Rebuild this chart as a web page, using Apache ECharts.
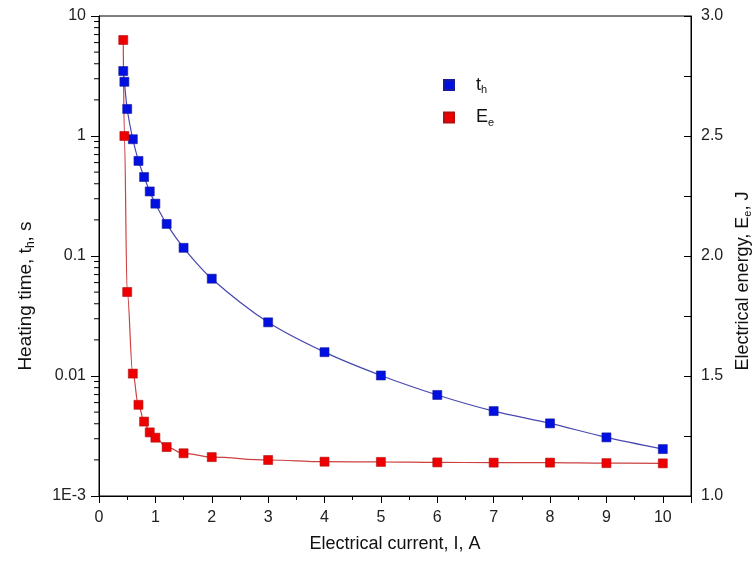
<!DOCTYPE html>
<html>
<head>
<meta charset="utf-8">
<script src="https://cdn.jsdelivr.net/npm/echarts@6/dist/echarts.min.js"></script>
<style>
  html, body { margin: 0; padding: 0; background: #fff; }
  #main { width: 755px; height: 575px; }
</style>
</head>
<body>
<div id="main"></div>
<script>
var chart = echarts.init(document.getElementById('main'));

// current, A
var current = [0.43, 0.45, 0.5, 0.6, 0.7, 0.8, 0.9, 1.0, 1.2, 1.5, 2, 3, 4, 5, 6, 7, 8, 9, 10];
// heating time t_h, s (left, log)
var heatTime = [3.48, 2.83, 1.68, 0.94, 0.62, 0.455, 0.345, 0.273, 0.185, 0.117, 0.0647, 0.028, 0.0158, 0.0101, 0.00695, 0.0051, 0.00403, 0.00308, 0.00246];
// electrical energy E_e, J (right)
var energy = [2.90, 2.50, 1.85, 1.51, 1.38, 1.31, 1.265, 1.243, 1.204, 1.178, 1.162, 1.150, 1.143, 1.142, 1.140, 1.139, 1.139, 1.137, 1.136];

var logLabels = ['1E-3', '0.01', '0.1', '1', '10'];
// minor ticks of the log axis: 2..9 in every decade
var logMinor = [];
[0.001, 0.01, 0.1, 1].forEach(function (d) {
    [2, 3, 4, 5, 6, 7, 8, 9].forEach(function (m) { logMinor.push([0, +(m * d).toPrecision(3)]); });
});

function pairs(xs, ys) {
    return xs.map(function (x, i) { return [x, ys[i]]; });
}

var font = 'Liberation Sans, Arial, sans-serif';

var option = {
    animation: false,
    backgroundColor: '#fff',
    grid: {
        left: 99, right: 64, top: 16, bottom: 79,
        outerBoundsMode: 'none', containLabel: false,
        show: true, borderColor: '#000', borderWidth: 1
    },
    legend: {
        orient: 'vertical',
        left: 438,
        top: 71,
        itemGap: 13,
        itemWidth: 10,
        itemHeight: 10,
        data: [{ name: 't_h', icon: 'rect' }, { name: 'E_e', icon: 'rect' }],
        formatter: function (n) { return n === 't_h' ? '{m|t}{s|h}' : '{m|E}{s|e}'; },
        textStyle: {
            padding: [0, 0, 0, 17],
            rich: {
                m: { fontFamily: font, fontSize: 18, color: '#111' },
                s: { fontFamily: font, fontSize: 11, verticalAlign: 'bottom', padding: [10, 0, 0, 0], color: '#111' }
            }
        }
    },
    xAxis: {
        type: 'value',
        min: 0,
        max: 10.5,
        interval: 1,
        name: 'Electrical current, I, A',
        nameLocation: 'middle',
        nameGap: 39,
        nameTextStyle: { fontFamily: font, fontSize: 18, color: '#111' },
        axisLine: { lineStyle: { color: '#000', width: 1 } },
        axisTick: { length: 7, lineStyle: { color: '#000' } },
        minorTick: { show: true, splitNumber: 2, length: 4, lineStyle: { color: '#000' } },
        axisLabel: {
            fontFamily: font, fontSize: 16, color: '#222', margin: 14,
            formatter: function (v) { return v % 1 === 0 ? String(v) : ''; }
        },
        splitLine: { show: false }
    },
    yAxis: [
        {
            type: 'log',
            logBase: 10,
            min: 0.001,
            max: 10,
            name: '{a|Heating time, t}{s|h}{a|, s}',
            nameLocation: 'middle',
            nameRotate: 90,
            nameGap: 62,
            nameTextStyle: {
                padding: [0, 80, 0, 0],
                rich: {
                    a: { fontFamily: font, fontSize: 19, color: '#111' },
                    s: { fontFamily: font, fontSize: 12, verticalAlign: 'bottom', padding: [10, 0, 0, 0], color: '#111' }
                }
            },
            axisLine: { show: true, lineStyle: { color: '#000', width: 1 } },
            axisTick: { length: 8, lineStyle: { color: '#000' } },
            axisLabel: {
                fontFamily: font, fontSize: 16, color: '#222', margin: 13,
                formatter: function (v) {
                    var k = Math.round(Math.log(v) / Math.LN10) + 3;
                    return logLabels[k] || '';
                }
            },
            splitLine: { show: false }
        },
        {
            type: 'value',
            min: 1,
            max: 3,
            interval: 0.5,
            position: 'right',
            name: '{a|Electrical energy, E}{s|e}{a|, J}',
            nameLocation: 'middle',
            nameRotate: 90,
            nameGap: 34,
            nameTextStyle: {
                padding: [0, 50, 0, 0],
                rich: {
                    a: { fontFamily: font, fontSize: 18, color: '#111' },
                    s: { fontFamily: font, fontSize: 11, verticalAlign: 'bottom', padding: [9, 0, 0, 0], color: '#111' }
                }
            },
            axisLine: { show: true, lineStyle: { color: '#000', width: 1 } },
            axisTick: { inside: true, length: 7, lineStyle: { color: '#000' } },
            minorTick: { show: true, splitNumber: 2, length: 7, lineStyle: { color: '#000' } },
            axisLabel: {
                fontFamily: font, fontSize: 16, color: '#222', margin: 10,
                formatter: function (v) { return v.toFixed(1); }
            },
            splitLine: { show: false }
        }
    ],
    series: [
        {
            name: 't_h',
            type: 'line',
            yAxisIndex: 0,
            data: pairs(current, heatTime),
            smooth: 0.3,
            symbol: 'rect',
            symbolSize: 9,
            itemStyle: { color: '#0010e0', borderColor: '#1a1a9a', borderWidth: 0.6 },
            lineStyle: { color: '#4848b0', width: 1.2 },
            z: 3
        },
        {
            name: 'E_e',
            type: 'line',
            yAxisIndex: 1,
            data: pairs(current, energy),
            smooth: 0.4,
            smoothMonotone: 'x',
            symbol: 'rect',
            symbolSize: 9,
            itemStyle: { color: '#ee0000', borderColor: '#b01010', borderWidth: 0.6 },
            lineStyle: { color: '#cc4040', width: 1.2 },
            z: 3
        },
        {
            name: 'logMinor',
            type: 'custom',
            yAxisIndex: 0,
            silent: true,
            data: logMinor,
            renderItem: function (params, api) {
                var p = api.coord([0, api.value(1)]);
                return {
                    type: 'line',
                    shape: { x1: p[0] - 5, y1: p[1], x2: p[0], y2: p[1] },
                    style: { stroke: '#000', lineWidth: 1 }
                };
            }
        }
    ]
};
chart.setOption(option);
</script>
</body>
</html>
